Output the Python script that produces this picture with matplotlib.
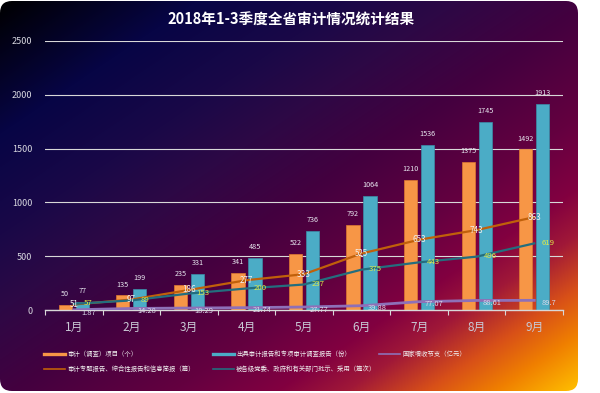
import numpy as np
import matplotlib
matplotlib.use("Agg")
import matplotlib.pyplot as plt
from matplotlib.patches import FancyBboxPatch
from matplotlib.lines import Line2D

plt.rcParams['font.family'] = ['Noto Sans CJK SC', 'DejaVu Sans']

# data
months = ["1月", "2月", "3月", "4月", "5月", "6月", "7月", "8月", "9月"]
projects = [50, 135, 235, 341, 522, 792, 1210, 1375, 1492]
reports = [77, 199, 331, 485, 736, 1064, 1536, 1745, 1913]
savings = [1.87, 14.28, 18.29, 21.74, 27.77, 39.88, 77.07, 88.61, 89.7]
briefs = [51, 97, 186, 277, 333, 525, 653, 743, 863]
adopted = [57, 89, 153, 200, 237, 375, 443, 496, 619]

names = ["审计（调查）项目（个）",
         "出具审计报告和专项审计调查报告（份）",
         "国家增收节支（亿元）",
         "审计专题报告、综合性报告和信息简报（篇）",
         "被各级党委、政府和有关部门批示、采用（篇次）"]

C_PROJ = "#f79646"
C_REP = "#4bacc6"
C_SAV = "#8e70b8"
C_BRF = "#c0600a"
C_ADP = "#236e7e"

W, H = 600, 393
fig = plt.figure(figsize=(W / 100, H / 100), dpi=100, facecolor="white")

#background card with diagonal gradient
bg = fig.add_axes([0, 0, 1, 1], zorder=-10)
bg.set_xlim(0, W)
bg.set_ylim(H, 0)
bg.axis("off")
gw, gh = 578, 391
uu, vv = np.meshgrid(np.linspace(0, 1, gw), np.linspace(0, 1, gh))
t = (uu + vv) / 2
stops = [0, 0.17, 0.3, 0.4, 0.52, 0.65, 0.74, 0.8, 0.87, 0.93, 1.0]
cols = ["#000000", "#070545", "#1a0848", "#2e0845", "#45003f", "#640040",
        "#820040", "#a01838", "#d85018", "#f08000", "#ffc000"]
rgb = np.array([matplotlib.colors.to_rgb(c) for c in cols])
img = np.dstack([np.interp(t, stops, rgb[:, i]) for i in range(3)])
im = bg.imshow(img, extent=[0, gw, gh, 1], interpolation="bilinear", aspect="auto")
card = FancyBboxPatch((0, 1), gw, gh - 1, boxstyle="round,pad=0,rounding_size=12",
                      transform=bg.transData, facecolor="none", edgecolor="none")
bg.add_patch(card)
im.set_clip_path(card)

# main chart
ax = fig.add_axes([45 / W, 1 - 310 / H, 518 / W, 269 / H])
ax.set_facecolor("none")
x = np.arange(len(months))
bw = 0.23
off = 0.148
b1 = ax.bar(x - off, projects, bw, color=C_PROJ, edgecolor="#e07a30", linewidth=0.5, zorder=2)
b2 = ax.bar(x + off, reports, bw, color=C_REP, edgecolor="#3a8ea8", linewidth=0.5, zorder=2)
for bars, vals in [(b1, projects), (b2, reports)]:
    for r, v in zip(bars, vals):
        ax.annotate(str(v), (r.get_x() + r.get_width() / 2, v), xytext=(0, 5),
                    textcoords="offset points", ha="center", va="bottom",
                    fontsize=5.2, color="#e8e8f0", zorder=6)

ax.plot(x, briefs, color=C_BRF, lw=1.6, zorder=4)
ax.plot(x, adopted, color=C_ADP, lw=1.6, zorder=4)
ax.plot(x, savings, color=C_SAV, lw=2.0, zorder=4)
for xi, v in zip(x, briefs):
    ax.text(xi, v, str(v), ha="center", va="center", fontsize=5.8, color="#f0f0f0", zorder=6)
for xi, v in zip(x, adopted):
    ax.annotate(str(v), (xi, v), xytext=(10, 0.5), textcoords="offset points",
                ha="center", va="center", fontsize=5.6, color="#dde84a", zorder=6)
for xi, v in zip(x, savings):
    ax.annotate(f"{v:g}", (xi, v), xytext=(11, -2), textcoords="offset points",
                ha="center", va="center", fontsize=5.4, color="#d8d8e8", zorder=6)

ax.set_xlim(-0.5, len(months) - 0.5)
ax.set_ylim(0, 2500)
ax.set_yticks(range(0, 2501, 500))
ax.yaxis.grid(True, color="#d8d8d8", lw=0.8)
ax.set_axisbelow(True)
ax.tick_params(axis="y", length=0, pad=9, labelsize=6.5, labelcolor="#d8d8e0")
ax.set_xticks(x)
ax.set_xticklabels(months)
ax.set_xticks(np.arange(-0.5, len(months)), minor=True)
ax.tick_params(axis="x", which="major", length=0, pad=8, labelsize=8.5, labelcolor="#c8c8d4")
ax.tick_params(axis="x", which="minor", length=3.5, width=0.8, color="#d8d8d8")
for s in ["top", "right", "left"]:
    ax.spines[s].set_visible(False)
ax.spines["bottom"].set_color("#d8d8d8")
ax.spines["bottom"].set_linewidth(1)

fig.text(291 / W, 1 - 20 / H, "2018年1-3季度全省审计情况统计结果", ha="center", va="center",
         fontsize=10.5, fontweight="bold", color="white")

# legend, laid out by hand
entries = [(names[0], C_PROJ, 2.4, 44, 354), (names[1], C_REP, 2.4, 213, 354),
           (names[2], C_SAV, 1.2, 379, 354), (names[3], C_BRF, 1.2, 44, 369),
           (names[4], C_ADP, 1.2, 213, 369)]
for label, c, lw, lx, ly in entries:
    fig.add_artist(Line2D([lx / W, (lx + 21) / W], [1 - ly / H, 1 - ly / H],
                          color=c, lw=lw, transform=fig.transFigure))
    fig.text((lx + 23) / W, 1 - ly / H, label, ha="left", va="center",
             fontsize=4.6, color="#f0f0f0")

plt.savefig("out.png", dpi=100, facecolor="white")
